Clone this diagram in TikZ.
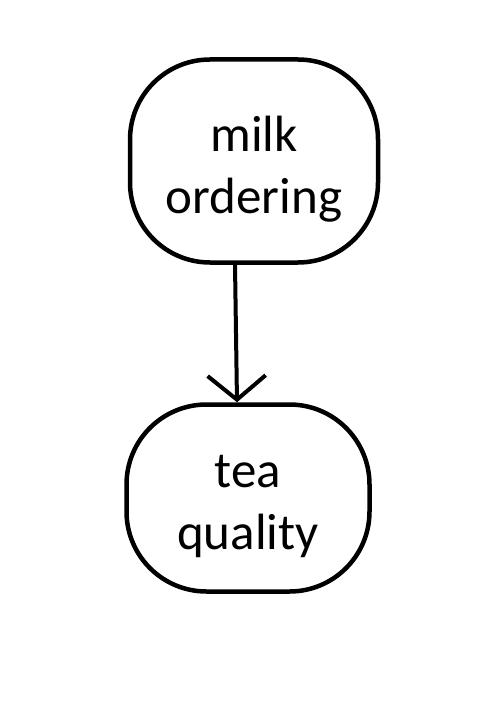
\documentclass[tikz,border=0pt]{standalone}
\usepackage{fontspec}
\setmainfont{Carlito}
\usetikzlibrary{arrows.meta}

\tikzset{
  blob/.style={draw, line width=4.5pt, rounded corners=80pt, inner sep=0pt},
  blobtext/.style={align=center, font=\fontsize{51}{62}\selectfont, yshift=-8pt},
  causes/.style={line width=4pt, line cap=round, line join=round,
    -{Straight Barb[length=24pt, width=58pt, line width=4pt]}}
}

\begin{document}
\begin{tikzpicture}[x=1pt, y=-1pt]
  \useasboundingbox[fill=white] (0,0) rectangle (498,706);
  \node[blob, minimum width=248pt, minimum height=203pt,
    label={[blobtext]center:{milk\\ordering}}] (milk) at (254,161) {};
  \node[blob, minimum width=243pt, minimum height=187pt,
    label={[blobtext]center:{tea\\quality}}] (tea) at (248,498) {};
  \draw[causes] ([xshift=-19pt]milk.south) -- ([xshift=-11pt]tea.north);
\end{tikzpicture}
\end{document}
